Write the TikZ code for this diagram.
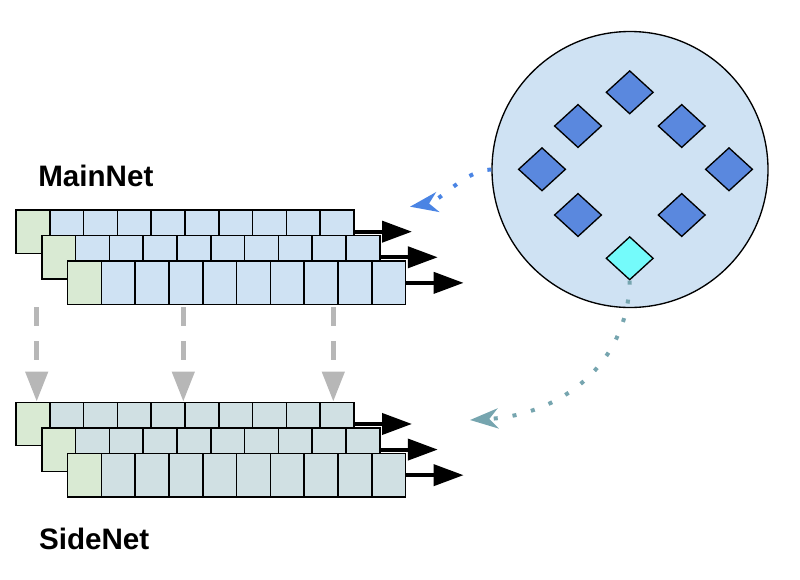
\documentclass[tikz,border=0pt]{standalone}
\usepackage{fontspec}
\setmainfont{Liberation Sans}
\usetikzlibrary{shapes.geometric,arrows.meta,calc}
\definecolor{cellblue}{HTML}{CFE2F3}
\definecolor{cellcyan}{HTML}{D0E0E3}
\definecolor{cellgreen}{HTML}{D9EAD3}
\definecolor{circfill}{HTML}{CFE2F3}
\definecolor{diafill}{HTML}{5A88DE}
\definecolor{diacyan}{HTML}{74FBFB}
\definecolor{arrowgray}{HTML}{B7B7B7}
\definecolor{dotblue}{HTML}{4A84E4}
\definecolor{dotteal}{HTML}{76A5AF}
\begin{document}
\begin{tikzpicture}[x=0.75pt,y=-0.75pt,
  cell/.style={draw, line width=1.1pt, minimum width=25.35pt, minimum height=32.5pt,
    inner sep=0pt, outer sep=0pt, anchor=north west},
  fatarrow/.style={draw=black, line width=3pt, -{Triangle[length=22.5pt,width=15.75pt]}},
  grayarrow/.style={draw=arrowgray, line width=3.5pt, dash pattern=on 13.9pt off 11.6pt,
    -{Triangle[length=22.5pt,width=16.5pt]}, arrowgray},
  lbl/.style={font=\bfseries\fontsize{22.2pt}{26pt}\selectfont, inner sep=0pt, anchor=base west},
  dia/.style={diamond, draw, line width=1pt, fill=diafill, minimum width=35.5pt,
    minimum height=32.5pt, inner sep=0pt},
  bluedot/.style={draw=dotblue, line width=3pt, dash pattern=on 3pt off 11.25pt,
    -{Stealth[length=21pt,width=15pt,inset=6.5pt]}, dotblue},
  tealdot/.style={draw=dotteal, line width=3pt, dash pattern=on 3pt off 11.25pt,
    -{Stealth[length=21pt,width=15pt,inset=6.5pt]}, dotteal}
]
\useasboundingbox (0,0) rectangle (800,579);

% stacks of cells
\foreach \net/\dy/\fc in {m/0/cellblue, s/192.3/cellcyan} {
  \foreach \r/\ox/\oy in {1/16/210, 2/41.8/235.6, 3/67.6/261.2} {
    \node[cell, fill=cellgreen] (\net\r c0) at (\ox, \oy+\dy) {};
    \foreach \c in {1,...,9}
      \node[cell, fill=\fc] (\net\r c\c) at ($(\ox,\oy+\dy)+(\c*33.8,0)$) {};
    \coordinate (\net\r e) at ($(\net\r c9.east)+(58,0)$);
    \draw[fatarrow] (\net\r c9.east) -- (\net\r e);
  }
}

% labels
\node[lbl] (mainlbl) at (38,186.7) {MainNet};
\node[lbl] (sidelbl) at (38.8,549.3) {SideNet};

% gray dashed arrows
\coordinate (g1s) at (36.7,307.3);  \coordinate (g1e) at (36.7,401.5);
\coordinate (g2s) at (183.3,307.3); \coordinate (g2e) at (183.3,401.5);
\coordinate (g3s) at (333.3,307.3); \coordinate (g3e) at (333.3,401.5);
\draw[grayarrow] (g1s) -- (g1e);
\draw[grayarrow] (g2s) -- (g2e);
\draw[grayarrow] (g3s) -- (g3e);

% pool circle
\node[circle, draw, line width=1pt, fill=circfill, minimum size=207pt, inner sep=0pt] (pool) at (630,169.5) {};
\node[dia] (d1) at (629.7,92.3) {};
\node[dia] (d2) at (578,126) {};
\node[dia] (d3) at (681.7,126) {};
\node[dia] (d4) at (542,169.3) {};
\node[dia] (d5) at (729,169.3) {};
\node[dia] (d6) at (578,215) {};
\node[dia] (d7) at (681.7,215) {};
\node[dia, fill=diacyan] (d8) at (629.7,258.3) {};

% dotted connectors
\coordinate (bluetip) at (410,206.7);
\coordinate (tealtip) at (470,420);
\draw[bluedot] (pool.west) .. controls (465,170) and (440,201.7) .. (bluetip);
\draw[tealdot] (d8.south) .. controls (628,365) and (560,415) .. (tealtip);
\end{tikzpicture}
\end{document}
